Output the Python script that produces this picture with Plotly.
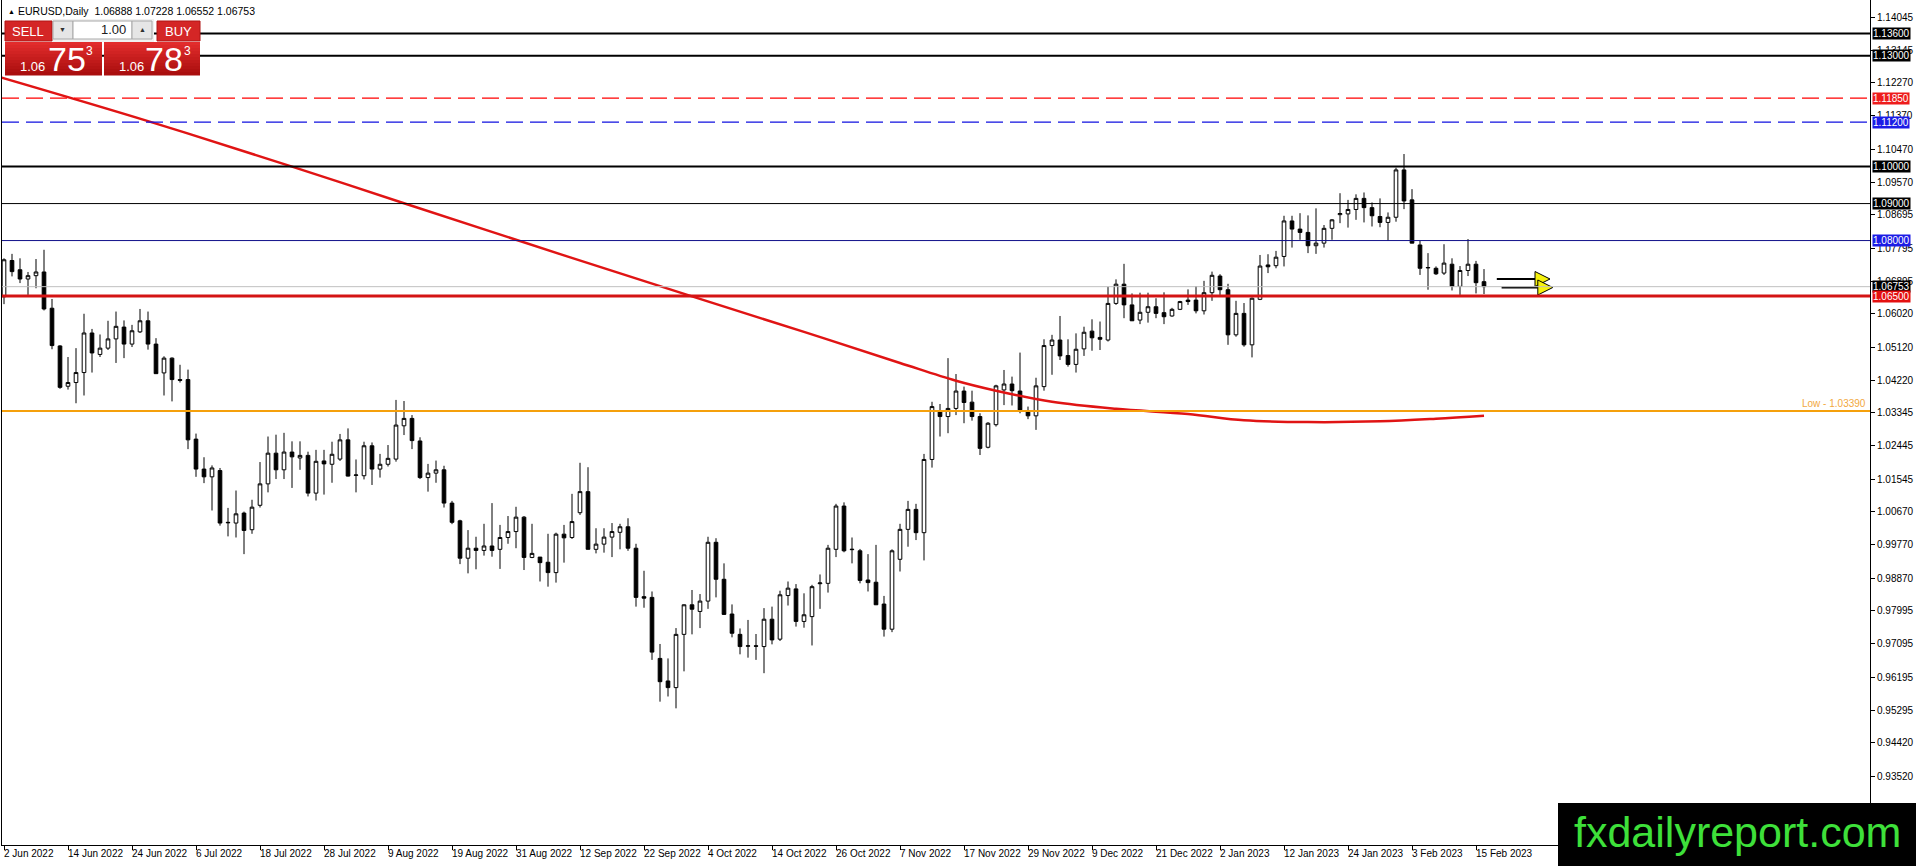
import pandas as pd
import plotly.graph_objects as go

# EURUSD daily candles, 2 Jun 2022 - 16 Feb 2023
opens = [
    1.0648, 1.0746, 1.0721, 1.0696, 1.0705, 1.0715, 1.0617, 1.0515, 1.0406, 1.0416,
    1.0443, 1.0550, 1.0492, 1.0509, 1.0534, 1.0566, 1.0520, 1.0553, 1.0583, 1.0520,
    1.0442, 1.0482, 1.0424, 1.0424, 1.0263, 1.0182, 1.0161, 1.0178, 1.0038, 1.0036,
    1.0063, 1.0018, 1.0084, 1.0142, 1.0225, 1.0180, 1.0228, 1.0212, 1.0219, 1.0117,
    1.0204, 1.0195, 1.0209, 1.0261, 1.0165, 1.0164, 1.0245, 1.0182, 1.0195, 1.0209,
    1.0299, 1.0319, 1.0258, 1.0159, 1.0171, 1.0180, 1.0090, 1.0042, 0.9941, 0.9968,
    0.9962, 0.9974, 0.9965, 0.9997, 1.0013, 1.0052, 0.9943, 0.9944, 0.9930, 0.9902,
    1.0006, 0.9997, 1.0064, 1.0121, 0.9965, 0.9979, 0.9998, 1.0011, 1.0026, 0.9968,
    0.9837, 0.9835, 0.9670, 0.9609, 0.9591, 0.9735, 0.9815, 0.9797, 0.9825, 0.9984,
    0.9884, 0.9790, 0.9735, 0.9703, 0.9704, 0.9702, 0.9776, 0.9722, 0.9840, 0.9858,
    0.9770, 0.9783, 0.9872, 0.9873, 0.9965, 1.0082, 0.9964, 0.9961, 0.9882, 0.9876,
    0.9817, 0.9749, 0.9938, 1.0019, 1.0073, 1.0010, 1.0208, 1.0338, 1.0324, 1.0346,
    1.0393, 1.0363, 1.0324, 1.0241, 1.0302, 1.0396, 1.0412, 1.0393, 1.0337, 1.0326,
    1.0405, 1.0516, 1.0531, 1.0489, 1.0465, 1.0507, 1.0555, 1.0538, 1.0531, 1.0630,
    1.0682, 1.0626, 1.0585, 1.0606, 1.0621, 1.0605, 1.0596, 1.0614, 1.0639, 1.0639,
    1.0610, 1.0659, 1.0704, 1.0667, 1.0545, 1.0603, 1.0518, 1.0641, 1.0734, 1.0732,
    1.0757, 1.0853, 1.0831, 1.0822, 1.0786, 1.0793, 1.0833, 1.0870, 1.0872, 1.0884,
    1.0914, 1.0889, 1.0865, 1.0849, 1.0863, 1.0991, 1.0910, 1.0788, 1.0726, 1.0725,
    1.0712, 1.0736, 1.0676, 1.0719, 1.0736, 1.06888,
]
highs = [
    1.0752, 1.0764, 1.0752, 1.0715, 1.0750, 1.0775, 1.0642, 1.0517, 1.0485, 1.0509,
    1.0602, 1.0561, 1.0546, 1.0583, 1.0608, 1.0584, 1.0572, 1.0615, 1.0608, 1.0536,
    1.0487, 1.0484, 1.0464, 1.0451, 1.0278, 1.0214, 1.0192, 1.0185, 1.0077, 1.0124,
    1.0067, 1.0099, 1.0201, 1.0270, 1.0275, 1.0280, 1.0257, 1.0257, 1.0229, 1.0234,
    1.0234, 1.0256, 1.0277, 1.0292, 1.0208, 1.0256, 1.0254, 1.0223, 1.0247, 1.0369,
    1.0366, 1.0328, 1.0268, 1.0196, 1.0205, 1.0191, 1.0096, 1.0045, 1.0017, 0.9999,
    1.0034, 1.0090, 1.0031, 1.0055, 1.0080, 1.0055, 1.0034, 0.9944, 1.0007, 1.0010,
    1.0031, 1.0115, 1.0199, 1.0187, 1.0022, 1.0022, 1.0036, 1.0034, 1.0049, 0.9980,
    0.9907, 0.9851, 0.9709, 0.9670, 0.9752, 0.9816, 0.9855, 0.9844, 0.9999, 0.9995,
    0.9927, 0.9816, 0.9751, 0.9774, 0.9736, 0.9806, 0.9810, 0.9853, 0.9878, 0.9871,
    0.9846, 0.9869, 0.9897, 0.9977, 1.0088, 1.0092, 0.9997, 0.9966, 0.9952, 0.9977,
    0.9839, 0.9965, 1.0034, 1.0096, 1.0088, 1.0223, 1.0364, 1.0358, 1.0482, 1.0439,
    1.0405, 1.0394, 1.0333, 1.0309, 1.0410, 1.0450, 1.0432, 1.0497, 1.0351, 1.0429,
    1.0533, 1.0545, 1.0596, 1.0533, 1.0549, 1.0567, 1.0587, 1.0581, 1.0675, 1.0695,
    1.0737, 1.0657, 1.0659, 1.0659, 1.0644, 1.0660, 1.0618, 1.0637, 1.0668, 1.0677,
    1.0691, 1.0716, 1.0709, 1.0683, 1.0637, 1.0631, 1.0646, 1.0761, 1.0763, 1.0772,
    1.0867, 1.0867, 1.0874, 1.0868, 1.0887, 1.0842, 1.0858, 1.0928, 1.0910, 1.0925,
    1.0930, 1.0903, 1.0914, 1.0876, 1.0997, 1.1034, 1.0939, 1.0799, 1.0766, 1.0730,
    1.0790, 1.0752, 1.0731, 1.0804, 1.0745, 1.07228,
]
lows = [
    1.0628, 1.0703, 1.0685, 1.0653, 1.0671, 1.0611, 1.0506, 1.0399, 1.0397, 1.0360,
    1.0381, 1.0443, 1.0485, 1.0504, 1.0469, 1.0482, 1.0512, 1.0550, 1.0505, 1.0440,
    1.0381, 1.0365, 1.0416, 1.0236, 1.0161, 1.0144, 1.0070, 1.0029, 1.0000, 0.9997,
    0.9952, 1.0007, 1.0078, 1.0119, 1.0155, 1.0155, 1.0131, 1.0180, 1.0108, 1.0097,
    1.0113, 1.0145, 1.0204, 1.0162, 1.0119, 1.0154, 1.0139, 1.0159, 1.0189, 1.0202,
    1.0274, 1.0236, 1.0155, 1.0121, 1.0145, 1.0078, 1.0033, 0.9925, 0.9900, 0.9911,
    0.9948, 0.9945, 0.9912, 0.9980, 0.9968, 0.9909, 0.9941, 0.9878, 0.9864, 0.9875,
    0.9929, 0.9993, 1.0058, 0.9965, 0.9954, 0.9956, 0.9944, 0.9965, 0.9961, 0.9810,
    0.9807, 0.9666, 0.9553, 0.9567, 0.9535, 0.9635, 0.9735, 0.9752, 0.9804, 0.9835,
    0.9788, 0.9727, 0.9681, 0.9672, 0.9666, 0.9630, 0.9708, 0.9717, 0.9813, 0.9756,
    0.9753, 0.9705, 0.9804, 0.9848, 0.9944, 0.9957, 0.9927, 0.9873, 0.9851, 0.9815,
    0.9729, 0.9741, 0.9905, 0.9972, 0.9990, 0.9935, 1.0186, 1.0270, 1.0279, 1.0328,
    1.0306, 1.0313, 1.0220, 1.0238, 1.0297, 1.0355, 1.0354, 1.0333, 1.0317, 1.0288,
    1.0394, 1.0437, 1.0477, 1.0459, 1.0443, 1.0488, 1.0502, 1.0504, 1.0527, 1.0626,
    1.0590, 1.0583, 1.0574, 1.0578, 1.0590, 1.0574, 1.0594, 1.0612, 1.0626, 1.0603,
    1.0600, 1.0637, 1.0653, 1.0518, 1.0540, 1.0513, 1.0484, 1.0639, 1.0712, 1.0725,
    1.0730, 1.0781, 1.0802, 1.0766, 1.0764, 1.0781, 1.0802, 1.0847, 1.0835, 1.0856,
    1.0849, 1.0838, 1.0836, 1.0799, 1.0851, 1.0885, 1.0793, 1.0707, 1.0667, 1.0707,
    1.0707, 1.0665, 1.0653, 1.0704, 1.0657, 1.06552,
]
closes = [
    1.0748, 1.0716, 1.0696, 1.0705, 1.0715, 1.0615, 1.0516, 1.0403, 1.0416, 1.0443,
    1.0550, 1.0496, 1.0509, 1.0534, 1.0568, 1.0520, 1.0556, 1.0583, 1.0520, 1.0440,
    1.0482, 1.0424, 1.0422, 1.0261, 1.0182, 1.0161, 1.0185, 1.0036, 1.0037, 1.0061,
    1.0016, 1.0079, 1.0142, 1.0225, 1.0180, 1.0228, 1.0215, 1.0219, 1.0117, 1.0203,
    1.0196, 1.0222, 1.0261, 1.0163, 1.0166, 1.0245, 1.0182, 1.0195, 1.0211, 1.0301,
    1.0319, 1.0259, 1.0159, 1.0171, 1.0180, 1.0090, 1.0038, 0.9941, 0.9968, 0.9962,
    0.9974, 0.9962, 0.9997, 1.0013, 1.0052, 0.9943, 0.9954, 0.9929, 0.9902, 1.0006,
    0.9996, 1.0040, 1.0121, 0.9965, 0.9979, 0.9998, 1.0013, 1.0026, 0.9968, 0.9835,
    0.9833, 0.9687, 0.9607, 0.9591, 0.9735, 0.9815, 0.9803, 0.9825, 0.9984, 0.9884,
    0.9789, 0.9738, 0.9702, 0.9704, 0.9703, 0.9776, 0.9720, 0.9842, 0.9860, 0.9770,
    0.9788, 0.9864, 0.9874, 0.9968, 1.0082, 0.9961, 0.9965, 0.9881, 0.9875, 0.9815,
    0.9749, 0.9961, 1.0019, 1.0073, 1.0010, 1.0208, 1.0351, 1.0324, 1.0346, 1.0393,
    1.0362, 1.0324, 1.0238, 1.0306, 1.0407, 1.0412, 1.0394, 1.0342, 1.0326, 1.0407,
    1.0516, 1.0531, 1.0488, 1.0465, 1.0506, 1.0552, 1.0537, 1.0533, 1.0630, 1.0682,
    1.0626, 1.0583, 1.0606, 1.0621, 1.0603, 1.0594, 1.0614, 1.0635, 1.0635, 1.0610,
    1.0659, 1.0706, 1.0667, 1.0545, 1.0603, 1.0518, 1.0644, 1.0731, 1.0729, 1.0755,
    1.0853, 1.0831, 1.0822, 1.0786, 1.0793, 1.0833, 1.0856, 1.0873, 1.0884, 1.0914,
    1.0889, 1.0867, 1.0849, 1.0863, 1.0991, 1.0907, 1.0793, 1.0725, 1.0727, 1.0710,
    1.0739, 1.0676, 1.0719, 1.0736, 1.0686, 1.06753,
]

# moving average (red curve), sampled at bar numbers
ma_bar = [-1, 18, 36, 50, 70, 86, 100, 112, 119, 124, 131, 139, 148, 155, 163, 172, 179, 185]
ma_val = [1.1245, 1.1123, 1.1000, 1.0901, 1.0760, 1.0649, 1.0553, 1.0469, 1.0421, 1.0394,
          1.0364, 1.0345, 1.0331, 1.0314, 1.0309, 1.0311, 1.0318, 1.0326]

# horizontal levels and their right-axis price tags
level_price = [1.13600, 1.13000, 1.11850, 1.11200, 1.10000, 1.09000, 1.08000, 1.06753, 1.06500]
level_line = ["black", "black", "#ff0000", "#1010e0", "black", "black", "#10108a", "#c0c0c0", "#d41414"]
level_width = [2, 2, 1.2, 1.2, 2, 1, 1, 1, 3]
level_dash = ["solid", "solid", "17px,7px", "17px,7px", "solid", "solid", "solid", "solid", "solid"]
level_tag = ["black", "black", "#ee1c1c", "#1c1ce6", "black", "black", "#1c1ce6", "black", "#e41010"]
low_price = 1.03390

# right axis tick values
y_ticks = [1.14045, 1.13145, 1.12270, 1.11370, 1.10470, 1.09570, 1.08695, 1.07795, 1.06895,
           1.06020, 1.05120, 1.04220, 1.03345, 1.02445, 1.01545, 1.00670, 0.99770, 0.98870,
           0.97995, 0.97095, 0.96195, 0.95295, 0.94420, 0.93520]

# date labels under the chart
date_labels = ["2 Jun 2022", "14 Jun 2022", "24 Jun 2022", "6 Jul 2022", "18 Jul 2022",
               "28 Jul 2022", "9 Aug 2022", "19 Aug 2022", "31 Aug 2022", "12 Sep 2022",
               "22 Sep 2022", "4 Oct 2022", "14 Oct 2022", "26 Oct 2022", "7 Nov 2022",
               "17 Nov 2022", "29 Nov 2022", "9 Dec 2022", "21 Dec 2022", "2 Jan 2023",
               "12 Jan 2023", "24 Jan 2023", "3 Feb 2023", "15 Feb 2023"]

# the two drawn arrows on the right (start of shaft, tip of head)
arrow_price = [1.0696, 1.0673]
arrow_start = [186.6, 187.2]
arrow_tip = [193.25, 193.6]

FONT = "Liberation Sans, Arial, sans-serif"

bars = list(range(len(opens)))
bar_dates = pd.bdate_range("2022-06-02", periods=len(opens))
bar_names = [f"{d.day} {d:%b %Y}" for d in bar_dates]
label_bars = [bar_names.index(t) for t in date_labels]


# pixel -> paper helpers (plot area is x 2..1870, y 0..845 of the 1916x866 picture)
def px(ox):
    return (ox - 2) / 1868


def py(oy):
    return (845 - oy) / 845


fig = go.Figure()

fig.add_trace(go.Candlestick(
    x=bars, open=opens, high=highs, low=lows, close=closes,
    increasing=dict(line=dict(color="black", width=1), fillcolor="white"),
    decreasing=dict(line=dict(color="black", width=1), fillcolor="black"),
    whiskerwidth=0, hoverinfo="skip", showlegend=False,
))

fig.add_trace(go.Scatter(
    x=ma_bar, y=ma_val, mode="lines",
    line=dict(color="#e01414", width=2.5, shape="spline"),
    hoverinfo="skip", showlegend=False,
))

for y, x0, x1 in zip(arrow_price, arrow_start, arrow_tip):
    fig.add_trace(go.Scatter(
        x=[x0, x1 - 1.5], y=[y, y], mode="lines",
        line=dict(color="black", width=2), hoverinfo="skip", showlegend=False,
    ))
    fig.add_trace(go.Scatter(
        x=[x1], y=[y], mode="markers",
        marker=dict(symbol="arrow-right", size=15, color="#f6f20c",
                    line=dict(color="black", width=1)),
        hoverinfo="skip", showlegend=False,
    ))

shapes = []
annotations = []

for p, c, w, d in zip(level_price, level_line, level_width, level_dash):
    shapes.append(dict(type="line", xref="paper", yref="y", x0=0, x1=1, y0=p, y1=p,
                       line=dict(color=c, width=w, dash=d), layer="above"))
shapes.append(dict(type="line", xref="paper", yref="y", x0=0, x1=1, y0=low_price, y1=low_price,
                   line=dict(color="#f5a00c", width=2), layer="above"))

for p, c in zip(level_price, level_tag):
    annotations.append(dict(xref="paper", yref="y", x=1, y=p, xanchor="left", yanchor="middle",
                            xshift=2, text=f"{p:.5f}", showarrow=False, bgcolor=c, borderpad=0,
                            font=dict(family=FONT, size=10, color="white")))

annotations.append(dict(xref="paper", yref="y", x=1, y=low_price, xanchor="right", yanchor="bottom",
                        xshift=-2, text=f"Low - {low_price:.5f}", showarrow=False,
                        font=dict(family=FONT, size=10, color="#f2a840")))

for b, t in zip(label_bars, date_labels):
    annotations.append(dict(xref="x", yref="paper", x=b, y=0, xanchor="left", yanchor="top",
                            xshift=-2, yshift=-1, text=t, showarrow=False,
                            font=dict(family=FONT, size=10, color="black")))


def box(x0, y0, x1, y1, fill, edge=None, lw=0):
    shapes.append(dict(type="rect", xref="paper", yref="paper",
                       x0=px(x0), x1=px(x1), y0=py(y1), y1=py(y0),
                       fillcolor=fill, line=dict(color=edge or fill, width=lw), layer="above"))


def label(ox, oy, text, size, color="white", anchor="center"):
    annotations.append(dict(xref="paper", yref="paper", x=px(ox), y=py(oy), xanchor=anchor,
                            yanchor="middle", text=text, showarrow=False,
                            font=dict(family=FONT, size=size, color=color)))


# one-click trading panel
box(52, 19, 154, 42, "#f0f0f0")
box(5, 21, 52, 41, "#d42626", "#b01414", 1)
box(157, 21, 200, 41, "#d42626", "#b01414", 1)
box(53, 21, 73, 39, "#e6e6e6", "#a8a8a8", 1)
box(73, 21, 132, 39, "white", "#a8a8a8", 1)
box(132, 21, 152, 39, "#e6e6e6", "#a8a8a8", 1)
steps = 11
for k in range(steps):
    t = k / (steps - 1)
    col = f"rgb({int(226 - 56 * t)},{int(44 - 30 * t)},{int(44 - 30 * t)})"
    y0 = 42 + k * 33 / steps
    box(5, y0, 102, y0 + 33 / steps + 0.5, col)
    box(104, y0, 200, y0 + 33 / steps + 0.5, col)

label(28, 31, "SELL", 13)
label(178, 31, "BUY", 13)
label(63, 30, "▼", 7, "#303030")
label(142, 30, "▲", 7, "#303030")
label(128, 30, "1.00", 13, "#202020", "right")
label(32, 66, "1.06", 13)
label(67, 59, "75", 34)
label(89, 51, "3", 12)
label(131, 66, "1.06", 13)
label(164, 59, "78", 34)
label(187, 51, "3", 12)

# symbol line at the top left
label(6, 11, "▲", 7, "black", "left")
label(16, 11, "EURUSD,Daily\u00a0 1.06888 1.07228 1.06552 1.06753", 10.5, "black", "left")

# watermark
box(1558, 803, 1920, 870, "black")
label(1737, 832, "fxdailyreport.com", 43, "#3ee03a")

fig.update_layout(
    width=1916, height=866, autosize=False,
    margin=dict(l=2, r=46, t=0, b=21, pad=0),
    paper_bgcolor="white", plot_bgcolor="white",
    showlegend=False,
    shapes=shapes, annotations=annotations,
    boxgap=0.35,
    xaxis=dict(range=[-0.25, 233.25], showgrid=False, zeroline=False,
               showline=True, linecolor="black", linewidth=1,
               ticks="outside", ticklen=4, tickcolor="black",
               tickvals=label_bars, showticklabels=False,
               rangeslider=dict(visible=False), fixedrange=True),
    yaxis=dict(range=[0.91654, 1.14505], side="right", showgrid=False, zeroline=False,
               showline=True, mirror=True, linecolor="black", linewidth=1,
               ticks="outside", ticklen=4, tickcolor="black",
               tickvals=y_ticks, ticktext=[f"{v:.5f}" for v in y_ticks],
               tickfont=dict(family=FONT, size=10, color="black"), fixedrange=True),
)

fig.write_html("out.html", config={"displayModeBar": False},
               post_script="document.body.style.margin='0';document.body.style.overflow='hidden';")
